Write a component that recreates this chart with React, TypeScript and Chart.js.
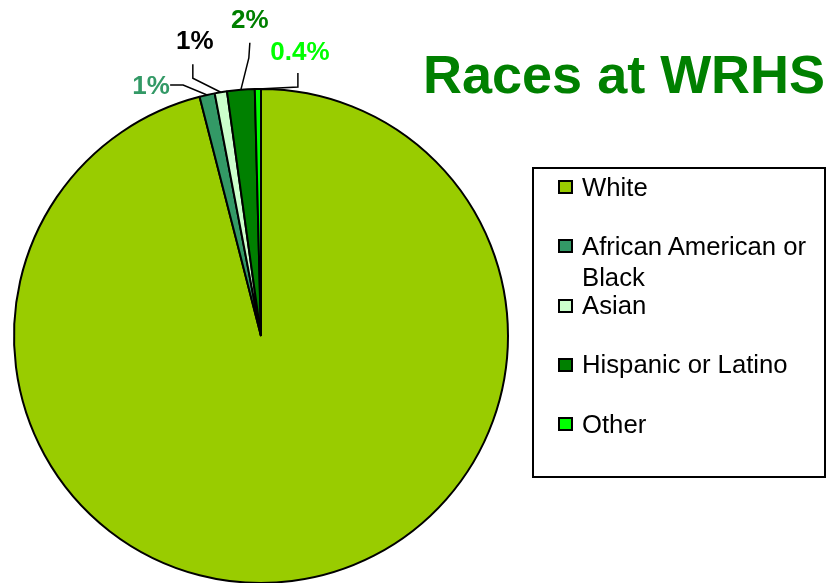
import React, { useEffect, useRef } from "react";
import { Chart, registerables } from "chart.js";

Chart.register(...registerables);

const categories = ["White", "African American or Black", "Asian", "Hispanic or Latino", "Other"];
const values = [96.0, 1.0, 0.8, 1.8, 0.4];
const percentLabels = ["", "1%", "1%", "2%", "0.4%"];
const sliceColors = ["#99CC00", "#339966", "#CCFFCC", "#008000", "#00FF00"];
const labelColors = ["#000000", "#339966", "#000000", "#008000", "#00FF00"];
const titleText = "Races at WRHS";

// leader line layout, offsets from each slice's outer mid point: [elbow, end, labelCenter]
const leaderLayout: ([number, number][] | null)[] = [
  null,
  [[-24, -10], [-37, -10], [-56, -8]],
  [[-28, -14], [-28, -28], [-26, -50]],
  [[8, -32], [9, -47], [9, -69]],
  [[40, -2], [40, -16], [42, -36]],
];

const FONT = "'Liberation Sans', Arial, Helvetica, sans-serif";

const leaderPlugin = {
  id: "leaderLabels",
  afterDatasetsDraw(chart: any) {
    const ctx = chart.ctx;
    const meta = chart.getDatasetMeta(0);
    meta.data.forEach((arc: any, i: number) => {
      const lay = leaderLayout[i];
      const txt = percentLabels[i];
      if (!lay || !txt) return;
      const { x, y, startAngle, endAngle, outerRadius } = arc.getProps(
        ["x", "y", "startAngle", "endAngle", "outerRadius"],
        true
      );
      const mid = (startAngle + endAngle) / 2;
      const px = x + Math.cos(mid) * outerRadius;
      const py = y + Math.sin(mid) * outerRadius;
      ctx.save();
      ctx.strokeStyle = "#000000";
      ctx.lineWidth = 1.5;
      ctx.beginPath();
      ctx.moveTo(px, py);
      ctx.lineTo(px + lay[0][0], py + lay[0][1]);
      ctx.lineTo(px + lay[1][0], py + lay[1][1]);
      ctx.stroke();
      ctx.fillStyle = labelColors[i];
      ctx.font = `bold 26px ${FONT}`;
      ctx.textAlign = "center";
      ctx.textBaseline = "middle";
      ctx.fillText(txt, px + lay[2][0], py + lay[2][1]);
      ctx.restore();
    });
  },
};

export default function App() {
  const canvasRef = useRef<HTMLCanvasElement | null>(null);

  useEffect(() => {
    document.body.style.margin = "0";
    const canvas = canvasRef.current;
    if (!canvas) return;
    const chart = new Chart(canvas, {
      type: "pie",
      data: {
        labels: categories,
        datasets: [
          {
            data: values,
            backgroundColor: sliceColors,
            borderColor: "#000000",
            borderWidth: 2,
          },
        ],
      },
      options: {
        responsive: false,
        maintainAspectRatio: false,
        animation: false,
        devicePixelRatio: 1,
        layout: { padding: { left: 13, top: 88, right: 319, bottom: 16 } },
        plugins: {
          legend: { display: false },
          tooltip: { enabled: false },
          title: { display: false },
        },
      },
      plugins: [leaderPlugin],
    });
    return () => chart.destroy();
  }, []);

  const itemTop = (i: number) => 171.5 + i * 59.3;

  return (
    <div
      style={{
        position: "absolute",
        left: 0,
        top: 0,
        width: 828,
        height: 583,
        overflow: "hidden",
        background: "#ffffff",
        fontFamily: FONT,
      }}
    >
      <canvas ref={canvasRef} width={828} height={600} style={{ display: "block", width: 828, height: 600 }} />
      <div
        style={{
          position: "absolute",
          left: 423,
          top: 47,
          fontSize: 54,
          lineHeight: "54px",
          fontWeight: "bold",
          color: "#008000",
          whiteSpace: "nowrap",
        }}
      >
        {titleText}
      </div>
      <div
        style={{
          position: "absolute",
          left: 532,
          top: 167,
          width: 294,
          height: 311,
          border: "2px solid #000000",
          boxSizing: "border-box",
        }}
      />
      {categories.map((c, i) => (
        <div
          key={c}
          style={{
            position: "absolute",
            left: 558,
            top: itemTop(i),
            width: 262,
            fontSize: 25.7,
            lineHeight: "31px",
            color: "#000000",
          }}
        >
          <span
            style={{
              position: "absolute",
              left: 0,
              top: 8.5,
              width: 15,
              height: 14,
              boxSizing: "border-box",
              border: "2px solid #000000",
              background: sliceColors[i],
            }}
          />
          <div style={{ marginLeft: 24, width: 236 }}>{c}</div>
        </div>
      ))}
    </div>
  );
}
